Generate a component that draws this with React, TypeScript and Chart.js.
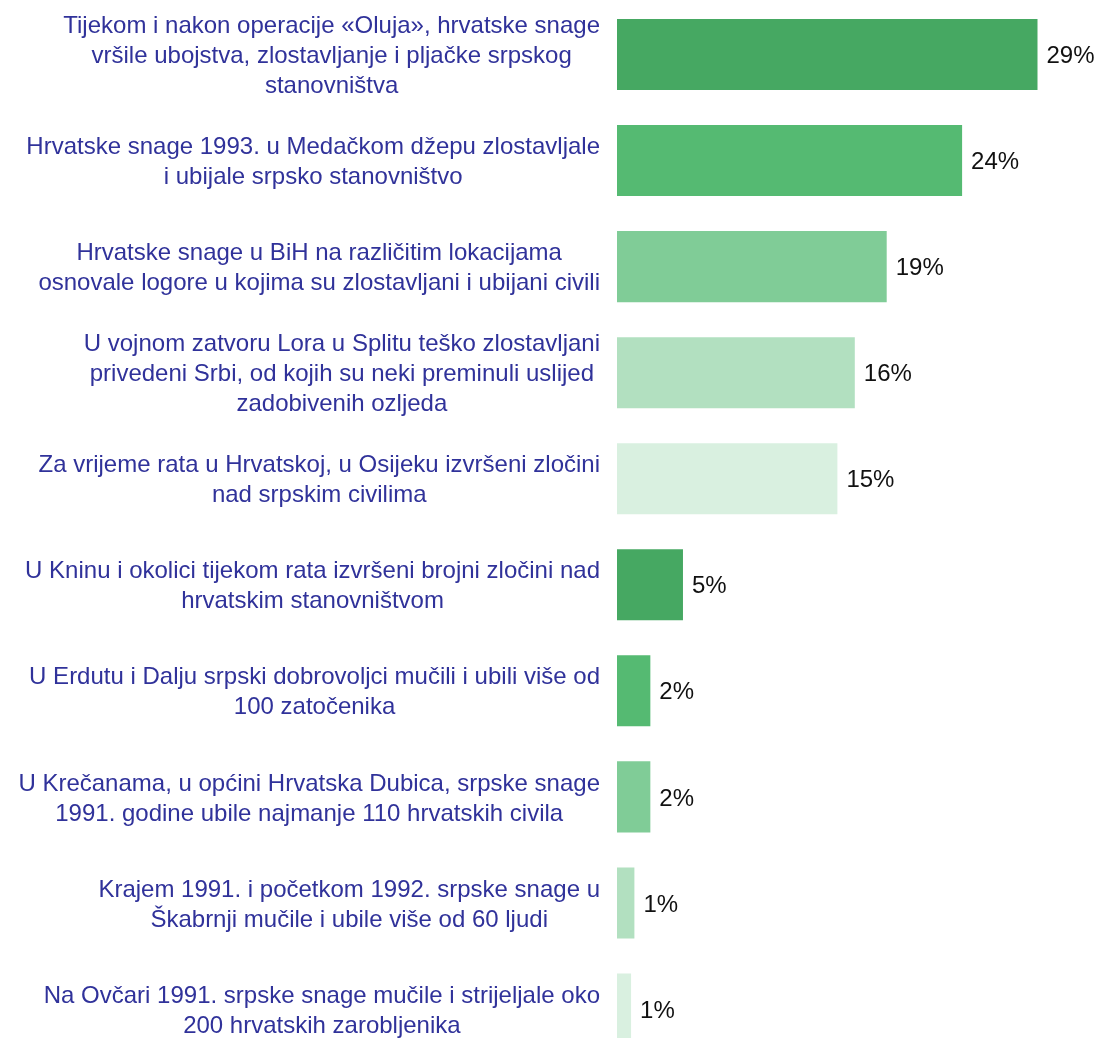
import React, { useEffect, useRef } from "react";
import { Chart, registerables } from "chart.js";

Chart.register(...registerables);

const categories: string[][] = [
  ["Tijekom i nakon operacije «Oluja», hrvatske snage", "vršile ubojstva, zlostavljanje i pljačke srpskog", "stanovništva"],
  ["Hrvatske snage 1993. u Medačkom džepu zlostavljale", "i ubijale srpsko stanovništvo"],
  ["Hrvatske snage u BiH na različitim lokacijama", "osnovale logore u kojima su zlostavljani i ubijani civili"],
  ["U vojnom zatvoru Lora u Splitu teško zlostavljani", "privedeni Srbi, od kojih su neki preminuli uslijed", "zadobivenih ozljeda"],
  ["Za vrijeme rata u Hrvatskoj, u Osijeku izvršeni zločini", "nad srpskim civilima"],
  ["U Kninu i okolici tijekom rata izvršeni brojni zločini nad", "hrvatskim stanovništvom"],
  ["U Erdutu i Dalju srpski dobrovoljci mučili i ubili više od", "100 zatočenika"],
  ["U Krečanama, u općini Hrvatska Dubica, srpske snage", "1991. godine ubile najmanje 110 hrvatskih civila"],
  ["Krajem 1991. i početkom 1992. srpske snage u", "Škabrnji mučile i ubile više od 60 ljudi"],
  ["Na Ovčari 1991. srpske snage mučile i strijeljale oko", "200 hrvatskih zarobljenika"],
];

const values: number[] = [29.0, 23.8, 18.6, 16.4, 15.2, 4.55, 2.3, 2.3, 1.2, 0.97];

const barColors: string[] = [
  "#46a862", "#55ba72", "#80cc97", "#b2e0c0", "#d9f0e0",
  "#46a862", "#55ba72", "#80cc97", "#b2e0c0", "#d9f0e0",
];

const FONT = "'Liberation Sans', Arial, sans-serif";
const LABEL_COLOR = "#30329a";

export default function App() {
  const ref = useRef<HTMLCanvasElement | null>(null);

  useEffect(() => {
    if (!ref.current) return;
    const labelPlugin = {
      id: "customLabels",
      afterDatasetsDraw(chart: any) {
        const ctx = chart.ctx as CanvasRenderingContext2D;
        const yScale = chart.scales.y;
        const meta = chart.getDatasetMeta(0);
        ctx.save();
        ctx.textBaseline = "middle";
        ctx.font = `24px ${FONT}`;
        ctx.fillStyle = LABEL_COLOR;
        ctx.textAlign = "center";
        const lineH = 30;
        const rightEdge = 600;
        const dy = 2;
        categories.forEach((lines, i) => {
          const y = yScale.getPixelForValue(i) + dy;
          const blockW = Math.max(...lines.map((l) => ctx.measureText(l).width));
          const cx = rightEdge - blockW / 2;
          lines.forEach((l, j) => {
            ctx.fillText(l, cx, y + (j - (lines.length - 1) / 2) * lineH);
          });
        });
        ctx.font = `24px ${FONT}`;
        ctx.fillStyle = "#111111";
        ctx.textAlign = "left";
        values.forEach((v, i) => {
          const el = meta.data[i];
          ctx.fillText(Math.round(v) + "%", el.x + 9, el.y + dy);
        });
        ctx.restore();
      },
    };

    const chart = new Chart(ref.current, {
      type: "bar",
      data: {
        labels: categories.map((c) => c.join(" ")),
        datasets: [
          {
            data: values,
            backgroundColor: barColors,
            borderWidth: 0,
            categoryPercentage: 1,
            barPercentage: 0.67,
          },
        ],
      },
      options: {
        indexAxis: "y",
        responsive: false,
        animation: false,
        layout: { padding: { left: 617, right: 0, top: 1.5, bottom: 0 } },
        plugins: { legend: { display: false }, tooltip: { enabled: false } },
        scales: {
          x: { display: false, min: 0, max: 480 / 14.5 },
          y: { display: false },
        },
      },
      plugins: [labelPlugin],
    });
    return () => chart.destroy();
  }, []);

  return (
    <div style={{ position: "absolute", left: 0, top: 0, width: 1097, height: 1038, overflow: "hidden", background: "#fff" }}>
      <canvas ref={ref} width={1097} height={1062} style={{ display: "block" }} />
    </div>
  );
}
